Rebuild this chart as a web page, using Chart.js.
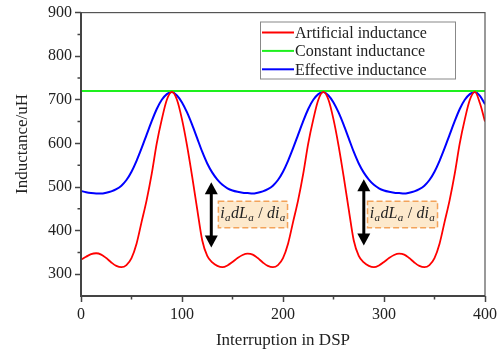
<!DOCTYPE html>
<html>
<head>
<meta charset="utf-8">
<script src="https://cdn.jsdelivr.net/npm/chart.js@4.4.0/dist/chart.umd.min.js"></script>
<style>
  html, body { margin: 0; padding: 0; background: #fff; }
</style>
</head>
<body>
<canvas id="chart" width="500" height="354"></canvas>
<script>
// Interruption index (x) in steps of 5
var xValues = [0, 5, 10, 15, 20, 25, 30, 35, 40, 45, 50, 55, 60, 65, 70, 75, 80, 85, 90, 95,
  100, 105, 110, 115, 120, 125, 130, 135, 140, 145, 150, 155, 160, 165, 170, 175, 180, 185, 190, 195,
  200, 205, 210, 215, 220, 225, 230, 235, 240, 245, 250, 255, 260, 265, 270, 275, 280, 285, 290, 295,
  300, 305, 310, 315, 320, 325, 330, 335, 340, 345, 350, 355, 360, 365, 370, 375, 380, 385, 390, 395, 400];

// Artificial inductance (uH)
var artificialValues = [333, 340, 346, 348,
  345, 337, 327, 319, 316, 321, 337, 370, 420, 470, 530, 600, 655, 700, 718,
  700, 655, 595, 525, 450, 378, 342, 327, 319, 316, 320, 328, 337, 344, 347,
  345, 337, 327, 319, 316, 321, 337, 370, 420, 470, 530, 600, 655, 700, 718,
  700, 655, 595, 525, 450, 378, 342, 327, 319, 316, 320, 328, 337, 344, 347,
  345, 337, 327, 319, 316, 321, 337, 370, 420, 470, 530, 600, 655, 700, 718,
  692, 650];

// Effective inductance (uH)
var effectiveValues = [491, 488, 486, 485,
  485, 487, 490, 495, 503, 516, 535, 560, 589, 620, 651, 679, 700, 713, 718,
  710, 694, 671, 643, 612, 581, 554, 533, 517, 505, 497, 492, 489, 487, 486,
  485, 487, 490, 495, 503, 516, 535, 560, 589, 620, 651, 679, 700, 713, 718,
  710, 694, 671, 643, 612, 581, 554, 533, 517, 505, 497, 492, 489, 487, 486,
  485, 487, 490, 495, 503, 516, 535, 560, 589, 620, 651, 679, 700, 713, 718,
  709, 690];

// Constant inductance (uH)
var constantX = [0, 400];
var constantValues = [720, 720];

var xTickLabels = [0, 100, 200, 300, 400];
var yTickLabels = [300, 400, 500, 600, 700, 800, 900];

var seriesNames = ["Artificial inductance", "Constant inductance", "Effective inductance"];
var yTitle = "Inductance/uH";

// annotation marks, in data units
var arrows = [
  { x: 129, from: 361, to: 511 },
  { x: 280, from: 366, to: 518 }
];
var labelBoxes = [
  { x0: 136, x1: 204.5, y0: 406.5, y1: 467.5 },
  { x0: 283.7, x1: 353, y0: 406.5, y1: 467.5 }
];

var serif = "'Liberation Serif', 'Times New Roman', serif";

function toPoints(xs, ys) {
  return xs.map(function (x, i) { return { x: x, y: ys[i] }; });
}

// frame, minor ticks, y title, legend box, arrows and labels
var decorPlugin = {
  id: "decor",
  afterDatasetsDraw: function (chart) {
    var c = chart.ctx;
    var a = chart.chartArea;
    var xs = chart.scales.x;
    var ys = chart.scales.y;
    c.save();

    // frame
    c.strokeStyle = "#555";
    c.lineWidth = 1.2;
    c.strokeRect(a.left, a.top, a.right - a.left, a.bottom - a.top);
    c.strokeStyle = "#444";
    c.lineWidth = 2;
    c.beginPath();
    c.moveTo(a.left, a.top);
    c.lineTo(a.left, a.bottom);
    c.lineTo(a.right, a.bottom);
    c.stroke();

    // minor ticks
    c.lineWidth = 1.5;
    c.beginPath();
    for (var v = 50; v < 400; v += 100) {
      var px = xs.getPixelForValue(v);
      c.moveTo(px, a.bottom);
      c.lineTo(px, a.bottom + 3.5);
    }
    for (var w = 350; w < 900; w += 100) {
      var py = ys.getPixelForValue(w);
      c.moveTo(a.left, py);
      c.lineTo(a.left - 3.5, py);
    }
    c.stroke();

    // y axis title (sits a bit above the axis centre in the original)
    c.save();
    c.translate(23, 144);
    c.rotate(-Math.PI / 2);
    c.font = "17px " + serif;
    c.fillStyle = "#222";
    c.textAlign = "center";
    c.textBaseline = "middle";
    c.fillText(yTitle, 0, 0);
    c.restore();

    // legend
    var lx = 260, ly = 21.5, lw = 195, lh = 57;
    c.fillStyle = "#fff";
    c.fillRect(lx, ly, lw, lh);
    c.strokeStyle = "#888";
    c.lineWidth = 1;
    c.strokeRect(lx + 0.5, ly + 0.5, lw, lh);
    c.font = "16px " + serif;
    c.textBaseline = "middle";
    c.textAlign = "left";
    chart.data.datasets.forEach(function (ds, i) {
      var yy = 32.5 + i * 18.4;
      c.strokeStyle = ds.borderColor;
      c.lineWidth = 2;
      c.beginPath();
      c.moveTo(262, yy);
      c.lineTo(294, yy);
      c.stroke();
      c.fillStyle = "#222";
      c.fillText(ds.label, 295, yy + 1);
    });

    // arrows
    c.fillStyle = "#000";
    c.strokeStyle = "#000";
    arrows.forEach(function (ar) {
      var ax = xs.getPixelForValue(ar.x);
      var top = ys.getPixelForValue(ar.to);
      var bot = ys.getPixelForValue(ar.from);
      var hh = 12, hw = 6.5;
      c.lineWidth = 3;
      c.beginPath();
      c.moveTo(ax, top + hh - 1);
      c.lineTo(ax, bot - hh + 1);
      c.stroke();
      c.beginPath();
      c.moveTo(ax, top);
      c.lineTo(ax - hw, top + hh);
      c.lineTo(ax + hw, top + hh);
      c.closePath();
      c.fill();
      c.beginPath();
      c.moveTo(ax, bot);
      c.lineTo(ax - hw, bot - hh);
      c.lineTo(ax + hw, bot - hh);
      c.closePath();
      c.fill();
    });

    // label boxes with i_a dL_a / di_a
    var parts = [
      { t: "i", sub: false }, { t: "a", sub: true }, { t: "dL", sub: false }, { t: "a", sub: true },
      { t: " / ", sub: false, up: true }, { t: "di", sub: false }, { t: "a", sub: true }
    ];
    var mainFont = "italic 16px " + serif;
    var subFont = "italic 11px " + serif;
    var upFont = "16px " + serif;
    labelBoxes.forEach(function (b) {
      var bx0 = xs.getPixelForValue(b.x0);
      var bx1 = xs.getPixelForValue(b.x1);
      var by0 = ys.getPixelForValue(b.y1);
      var by1 = ys.getPixelForValue(b.y0);
      c.fillStyle = "#fde9cc";
      c.fillRect(bx0, by0, bx1 - bx0, by1 - by0);
      c.strokeStyle = "#f3a35a";
      c.lineWidth = 1.5;
      c.setLineDash([6, 3]);
      c.strokeRect(bx0, by0, bx1 - bx0, by1 - by0);
      c.setLineDash([]);

      var total = 0;
      parts.forEach(function (p) {
        c.font = p.sub ? subFont : (p.up ? upFont : mainFont);
        p.w = c.measureText(p.t).width + (p.sub ? 0.5 : 0.3);
        total += p.w;
      });
      var tx = (bx0 + bx1) / 2 - total / 2;
      var base = (by0 + by1) / 2 + 3.5;
      c.fillStyle = "#222";
      c.textBaseline = "alphabetic";
      parts.forEach(function (p) {
        c.font = p.sub ? subFont : (p.up ? upFont : mainFont);
        c.fillText(p.t, tx, p.sub ? base + 3.5 : base);
        tx += p.w;
      });
    });

    c.restore();
  }
};

var tickFont = { family: serif, size: 16 };

new Chart(document.getElementById("chart"), {
  type: "line",
  data: {
    datasets: [
      {
        label: seriesNames[0],
        data: toPoints(xValues, artificialValues),
        borderColor: "#ff0000",
        borderWidth: 1.8,
        pointRadius: 0,
        cubicInterpolationMode: "monotone"
      },
      {
        label: seriesNames[1],
        data: toPoints(constantX, constantValues),
        borderColor: "#1ef01e",
        borderWidth: 2,
        pointRadius: 0
      },
      {
        label: seriesNames[2],
        data: toPoints(xValues, effectiveValues),
        borderColor: "#0000ff",
        borderWidth: 2,
        pointRadius: 0,
        cubicInterpolationMode: "monotone"
      }
    ]
  },
  options: {
    responsive: false,
    animation: false,
    layout: { padding: { top: 12, right: 15, left: 0, bottom: 0 } },
    plugins: { legend: { display: false }, tooltip: { enabled: false } },
    scales: {
      x: {
        type: "linear",
        min: 0,
        max: 400,
        ticks: {
          stepSize: 50,
          autoSkip: false,
          maxRotation: 0,
          padding: 3,
          color: "#222",
          font: tickFont,
          callback: function (v) { return xTickLabels.indexOf(v) >= 0 ? String(v) : ""; }
        },
        grid: {
          drawOnChartArea: false,
          tickLength: 6,
          tickWidth: 1.5,
          tickColor: function (ctx) {
            return ctx.tick && xTickLabels.indexOf(ctx.tick.value) >= 0 ? "#444" : "rgba(0,0,0,0)";
          }
        },
        border: { display: false },
        title: {
          display: true,
          text: "Interruption in DSP",
          color: "#222",
          font: { family: serif, size: 17 },
          padding: { top: 0, bottom: 3 }
        },
        afterFit: function (s) { s.height = 58; }
      },
      y: {
        min: 250,
        max: 900,
        ticks: {
          stepSize: 50,
          autoSkip: false,
          padding: 3,
          color: "#222",
          font: tickFont,
          callback: function (v) { return yTickLabels.indexOf(v) >= 0 ? String(v) : ""; }
        },
        grid: {
          drawOnChartArea: false,
          tickLength: 6,
          tickWidth: 1.5,
          tickColor: function (ctx) {
            return ctx.tick && yTickLabels.indexOf(ctx.tick.value) >= 0 ? "#444" : "rgba(0,0,0,0)";
          }
        },
        border: { display: false },
        title: { display: false },
        afterFit: function (s) { s.width = 81; }
      }
    }
  },
  plugins: [decorPlugin]
});
</script>
</body>
</html>
